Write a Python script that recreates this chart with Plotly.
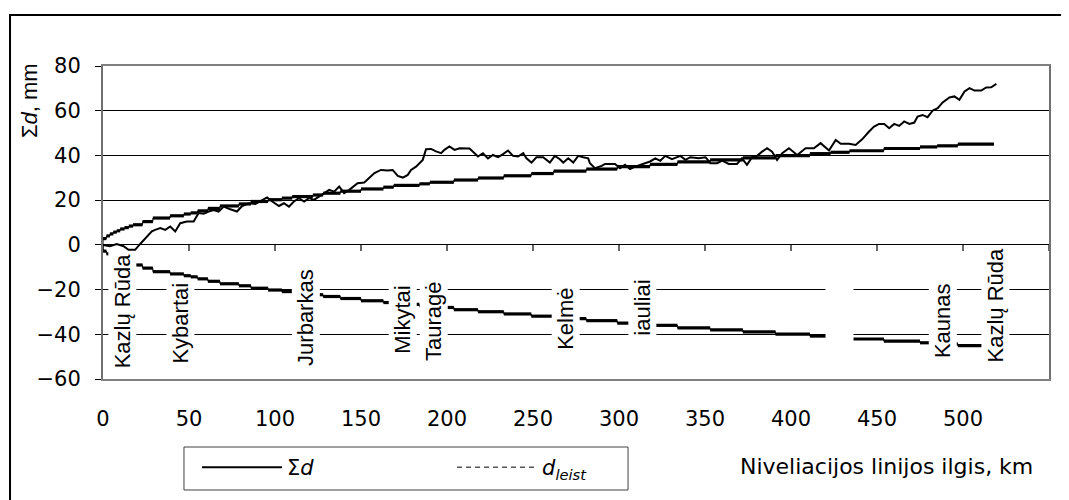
import plotly.graph_objects as go

# ---- data ----
km_sum = [0, 4, 8, 12, 14.8, 18.7, 21.6, 24.5, 28.4, 30.3, 33.3, 36.2, 39.1, 42, 44.9, 48.8, 52.7, 55.6,
          58.5, 61.4, 64.3, 67.2, 70.2, 74, 77.9, 80.9, 84.8, 88.6, 91.5, 95.4, 98.4, 102.3, 105.2, 108.1,
          111, 113.9, 116.9, 119.8, 122.7, 125.6, 128.5, 131.5, 134.4, 137.3, 140.2, 143.2, 148, 151.9,
          157.8, 161.6, 165.5, 168.4, 171.4, 174.3, 177.2, 179.1, 182, 185.9, 187.8, 190.7, 193.6, 196.6,
          198.5, 201.4, 204.4, 207.3, 213.1, 218, 220.9, 223.8, 226.7, 229.7, 232.6, 235.5, 238.4, 241.3,
          244.3, 246.2, 249.1, 252, 255.9, 259.8, 262.7, 265.6, 267.6, 270.5, 273.4, 276.3, 279.2, 282.1,
          283.1, 286, 289.9, 291.9, 297.7, 300.6, 303.5, 306.4, 309.4, 312.3, 315.2, 318.1, 321.1, 324,
          326.9, 330.8, 335.7, 338.6, 341.5, 346.4, 350.3, 353.2, 357.1, 360, 363.8, 368.6, 371.5, 374.4,
          377.4, 380.3, 383.2, 386.1, 389, 391.9, 394.9, 398.8, 403.6, 408.5, 413.3, 417.2, 422.1, 426,
          428.9, 433.7, 437.6, 441.5, 445.4, 448.3, 451.2, 454.2, 457.1, 460, 462.9, 465.8, 468.8, 471.7,
          473.6, 476.5, 479.4, 482.4, 485.3, 488.2, 492.1, 495, 497.9, 500.9, 503.8, 506.7, 510.6, 513.5,
          516.4, 519.4]
sum_d = [0, -0.6, 0.4, -0.6, -2.2, -2.2, 0.4, 3.0, 6.0, 6.7, 7.5, 6.7, 8.2, 6.0, 9.7, 10.4, 10.4, 14.2,
         13.9, 14.9, 15.6, 14.9, 17.1, 15.9, 14.9, 17.4, 18.6, 18.3, 19.4, 21.2, 19.4, 17.4, 18.6, 17.1,
         19.4, 20.9, 19.4, 20.9, 20.1, 21.6, 23.1, 24.6, 23.8, 26.1, 23.1, 24.6, 27.6, 27.9,
         32.1, 33.5, 33.3, 33.5, 30.8, 30.1, 31.3, 33.5, 35.0, 38.0, 42.8, 42.9, 41.8, 41.0,
         42.5, 44.0, 42.5, 43.2, 43.1, 39.5, 41.0, 38.7, 40.2, 39.2, 40.6, 42.2, 39.8, 39.5,
         41.0, 38.7, 36.8, 39.2, 39.2, 36.8, 39.8, 38.3, 36.8, 38.7, 36.8, 39.8, 39.2, 38.7,
         36.5, 34.3, 35.3, 36.2, 36.2, 34.3, 35.8, 33.9, 35.0, 35.8, 36.5, 37.3, 38.7, 37.6,
         39.8, 38.3, 39.8, 38.0, 39.2, 38.7, 39.2, 36.5, 36.5, 37.7, 36.2, 36.2, 38.7, 35.8,
         39.2, 39.8, 41.7, 43.2, 41.7, 38.0, 41.0, 43.2, 40.2, 43.2, 43.2, 45.5, 42.2, 46.9,
         45.2, 45.2, 44.7, 47.3, 50.7, 52.9, 54.1, 54.1, 52.2, 54.1, 53.2, 55.2, 54.1, 54.7,
         57.4, 58.1, 57.1, 60.1, 61.1, 63.7, 65.9, 66.4, 64.9, 68.6, 70.1, 69.0, 69.0, 70.4,
         70.5, 72.0]

dl_start = [0, 2, 4, 6, 8, 10, 12.5, 15, 17.5, 23, 29, 39, 47, 51, 55, 61, 68, 79, 86, 96, 104, 110,
            122, 128, 138, 150, 163, 169, 184, 190, 204, 218, 233, 249, 262, 281, 299, 318, 334, 353,
            372, 391, 411, 423, 434, 454, 475, 485, 497]
dl_end = [2, 4, 6, 8, 10, 12.5, 15, 17.5, 23, 29, 39, 47, 51, 55, 61, 68, 79, 86, 96, 104, 110, 122,
          128, 138, 150, 163, 169, 184, 190, 204, 218, 233, 249, 262, 281, 299, 318, 334, 353, 372,
          391, 411, 423, 434, 454, 475, 485, 497, 518]
dl_val = [2.8, 4.0, 4.9, 5.7, 6.3, 7.1, 7.7, 8.4, 9.0, 10.4, 12.0, 13.0, 13.8, 14.3, 15.2, 16.3, 17.4,
          18.3, 19.4, 20.2, 20.9, 21.6, 22.3, 23.1, 24.0, 25.0, 25.8, 26.6, 27.3, 28.0, 29.0, 29.9,
          30.9, 31.9, 33.0, 33.9, 35.0, 36.0, 37.1, 38.0, 38.9, 39.9, 40.8, 41.4, 42.1, 43.1, 43.8,
          44.3, 45.1]

stations = ["Kazlų Rūda", "Kybartai", "Jurbarkas", "Mikytai", "Tauragė", "Kelmė", "iauliai", "",
            "Kaunas", "Kazlų Rūda"]
station_km = [11.1, 44.9, 117.8, 174.4, 192.5, 268.9, 313.8, 428.4, 488.2, 519]

x_ticks = [0, 50, 100, 150, 200, 250, 300, 350, 400, 450, 500, 550]
y_ticks = [-60, -40, -20, 0, 20, 40, 60, 80]

# layout-only placement of the station labels (vertical centre, mm)
label_y = [-29.7, -35.1, -32.4, -33.5, -34.0, -33.3, -28.2, -31.3, -33.8, -26.8]
TICK_DEPTH = 2.7  # length of the x tick marks hanging below the 0 line (mm units)

H_FONT = "DejaVu Sans"
V_FONT = "Liberation Sans"

fig = go.Figure()

# d_leist (+ and -) : thin connectors + thick flat segments
for sign in (1, -1):
    cx, cy, sx, sy = [], [], [], []
    for s, e, v in zip(dl_start, dl_end, dl_val):
        cx += [s, e]
        cy += [sign * v, sign * v]
        sx += [s, e, None]
        sy += [sign * v, sign * v, None]
    cx = [0] + cx
    cy = [0] + cy
    fig.add_trace(go.Scatter(x=cx, y=cy, mode="lines", line=dict(color="black", width=1),
                             showlegend=False, hoverinfo="skip"))
    fig.add_trace(go.Scatter(x=sx, y=sy, mode="lines", line=dict(color="black", width=3.2),
                             showlegend=False, hoverinfo="skip"))

fig.add_trace(go.Scatter(x=km_sum, y=sum_d, mode="lines", name="Σ<i>d</i>",
                         line=dict(color="black", width=2)))
fig.add_trace(go.Scatter(x=[None], y=[None], mode="lines", name="<i>d</i><sub><i>leist</i></sub>",
                         line=dict(color="black", width=1, dash="5px,4px")))

# x tick marks hanging from the 0 line
tx, ty = [], []
for t in x_ticks:
    tx += [t, t, None]
    ty += [0, -TICK_DEPTH, None]
fig.add_trace(go.Scatter(x=tx, y=ty, mode="lines", line=dict(color="black", width=1.2),
                         showlegend=False, hoverinfo="skip", cliponaxis=False))

for name, k, ly in zip(stations, station_km, label_y):
    txt = name if name else "\u00a0" * 13
    fig.add_annotation(x=k, y=ly, xref="x", yref="y", text=txt, textangle=-90, showarrow=False,
                       xanchor="center", yanchor="middle",
                       bgcolor="white", borderpad=1,
                       font=dict(family=V_FONT, size=22, color="black"))

# axis titles
fig.add_annotation(x=-0.0782, y=0.888, xref="paper", yref="paper", text="Σ<i>d</i>, mm",
                   xanchor="center", yanchor="middle",
                   textangle=-90, showarrow=False, font=dict(family=V_FONT, size=22, color="black"))
fig.add_annotation(x=0.985, y=-0.281, xref="paper", yref="paper", xanchor="right", yanchor="middle",
                   text="Niveliacijos linijos ilgis, km", showarrow=False,
                   font=dict(family=H_FONT, size=22, color="black"))

# outer frame
fig.add_shape(type="rect", xref="paper", yref="paper", x0=-0.0983, x1=1.05, y0=-0.45, y1=1.163,
              line=dict(color="black", width=2), fillcolor="rgba(0,0,0,0)", layer="below")
# legend frame
fig.add_shape(type="rect", xref="paper", yref="paper", x0=0.0856, x1=0.5550, y0=-0.2173, y1=-0.3546,
              line=dict(color="#404040", width=1), fillcolor="rgba(0,0,0,0)")

fig.update_layout(
    width=1061, height=492,
    margin=dict(l=95, r=20, t=58, b=121),
    paper_bgcolor="white", plot_bgcolor="white",
    font=dict(family=H_FONT, size=21, color="black"),
    showlegend=True,
    legend=dict(orientation="h", x=0.0994, y=-0.2173, xanchor="left", yanchor="top",
                borderwidth=0, bgcolor="rgba(0,0,0,0)",
                font=dict(family=H_FONT, size=21, color="black"),
                entrywidth=160, entrywidthmode="pixels", itemwidth=80),
    xaxis=dict(range=[0, 550], tickvals=x_ticks, ticktext=[str(t) for t in x_ticks],
               showgrid=False, zeroline=False, showline=True, mirror=True,
               linecolor="#808080", linewidth=2, ticks="", ticklabelstandoff=20,
               tickfont=dict(family=H_FONT, size=21)),
    yaxis=dict(range=[-60, 80], tickvals=y_ticks,
               ticktext=[("−" + str(-t)) if t < 0 else str(t) for t in y_ticks],
               showgrid=True, gridcolor="black", gridwidth=1,
               zeroline=True, zerolinecolor="black", zerolinewidth=1,
               showline=True, mirror=True, linecolor="#707070", linewidth=2,
               ticks="outside", ticklen=6, tickcolor="black", ticklabelstandoff=10,
               tickfont=dict(family=H_FONT, size=21)),
)

fig.write_html("out.html")
